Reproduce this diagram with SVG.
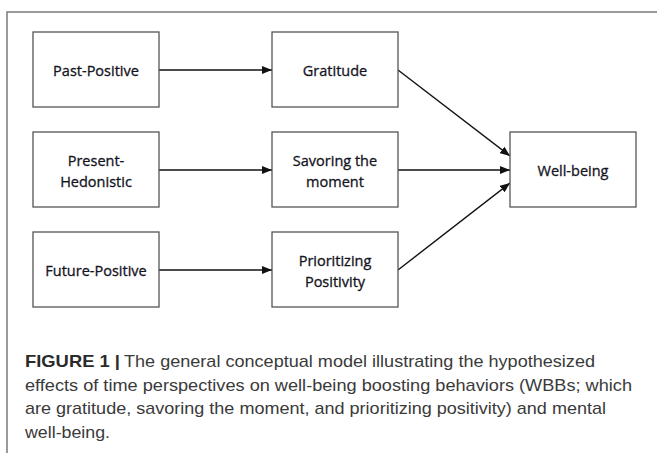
<svg xmlns="http://www.w3.org/2000/svg" width="657" height="453" viewBox="0 0 657 453">
<defs>
<style>
.frame{fill:none;stroke:#7a7a7a;stroke-width:1.5}
.box{fill:#fff;stroke:#555;stroke-width:1.3}
.lbl{font-family:"Open Sans","Liberation Sans",sans-serif;font-size:14.5px;font-weight:500;fill:#14141e;stroke:#14141e;stroke-width:0.3;text-anchor:middle}
.edge{fill:none;stroke:#111;stroke-width:1.4}
.cap{font-family:"Liberation Sans",Arial,sans-serif;font-size:17px;fill:#3a3a3a}
.capb{font-family:"Liberation Sans",Arial,sans-serif;font-size:17px;font-weight:bold;fill:#2a2a2a}
</style>
<marker id="ah" markerUnits="userSpaceOnUse" markerWidth="10" markerHeight="8" refX="10" refY="4" orient="auto">
<path d="M0,0 L10,4 L0,8 z" fill="#111"/>
</marker>
</defs>
<rect width="657" height="453" fill="#fff"/>
<path class="frame" d="M7,453 V12 H657"/>
<g id="connectors">
<line class="edge" x1="159" y1="70" x2="272" y2="70" marker-end="url(#ah)"/>
<line class="edge" x1="159" y1="170" x2="272" y2="170" marker-end="url(#ah)"/>
<line class="edge" x1="159" y1="270" x2="272" y2="270" marker-end="url(#ah)"/>
<line class="edge" x1="398" y1="70" x2="510" y2="156" marker-end="url(#ah)"/>
<line class="edge" x1="398" y1="170" x2="510" y2="170" marker-end="url(#ah)"/>
<line class="edge" x1="398" y1="270" x2="510" y2="183" marker-end="url(#ah)"/>
</g>
<g id="past-positive">
<rect class="box" x="33" y="32" width="126" height="75"/>
<text class="lbl" x="96" y="76">Past-Positive</text>
</g>
<g id="present-hedonistic">
<rect class="box" x="33" y="132" width="126" height="75"/>
<text class="lbl" x="96" y="166">Present-</text>
<text class="lbl" x="96" y="187">Hedonistic</text>
</g>
<g id="future-positive">
<rect class="box" x="33" y="232" width="126" height="75"/>
<text class="lbl" x="96" y="276">Future-Positive</text>
</g>
<g id="gratitude">
<rect class="box" x="272" y="32" width="126" height="75"/>
<text class="lbl" x="335" y="76">Gratitude</text>
</g>
<g id="savoring">
<rect class="box" x="272" y="132" width="126" height="75"/>
<text class="lbl" x="335" y="166">Savoring the</text>
<text class="lbl" x="335" y="187">moment</text>
</g>
<g id="prioritizing">
<rect class="box" x="272" y="232" width="126" height="75"/>
<text class="lbl" x="335" y="266">Prioritizing</text>
<text class="lbl" x="335" y="287">Positivity</text>
</g>
<g id="well-being">
<rect class="box" x="510" y="132" width="126" height="75"/>
<text class="lbl" x="573" y="176">Well-being</text>
</g>
<g id="caption">
<text class="capb" x="25" y="367" textLength="95" lengthAdjust="spacingAndGlyphs">FIGURE 1 |</text>
<text class="cap" x="124" y="367" textLength="471" lengthAdjust="spacingAndGlyphs">The general conceptual model illustrating the hypothesized</text>
<text class="cap" x="25" y="390.5" textLength="607" lengthAdjust="spacingAndGlyphs">effects of time perspectives on well-being boosting behaviors (WBBs; which</text>
<text class="cap" x="25" y="414" textLength="581" lengthAdjust="spacingAndGlyphs">are gratitude, savoring the moment, and prioritizing positivity) and mental</text>
<text class="cap" x="25" y="437.5" textLength="85" lengthAdjust="spacingAndGlyphs">well-being.</text>
</g>
</svg>
